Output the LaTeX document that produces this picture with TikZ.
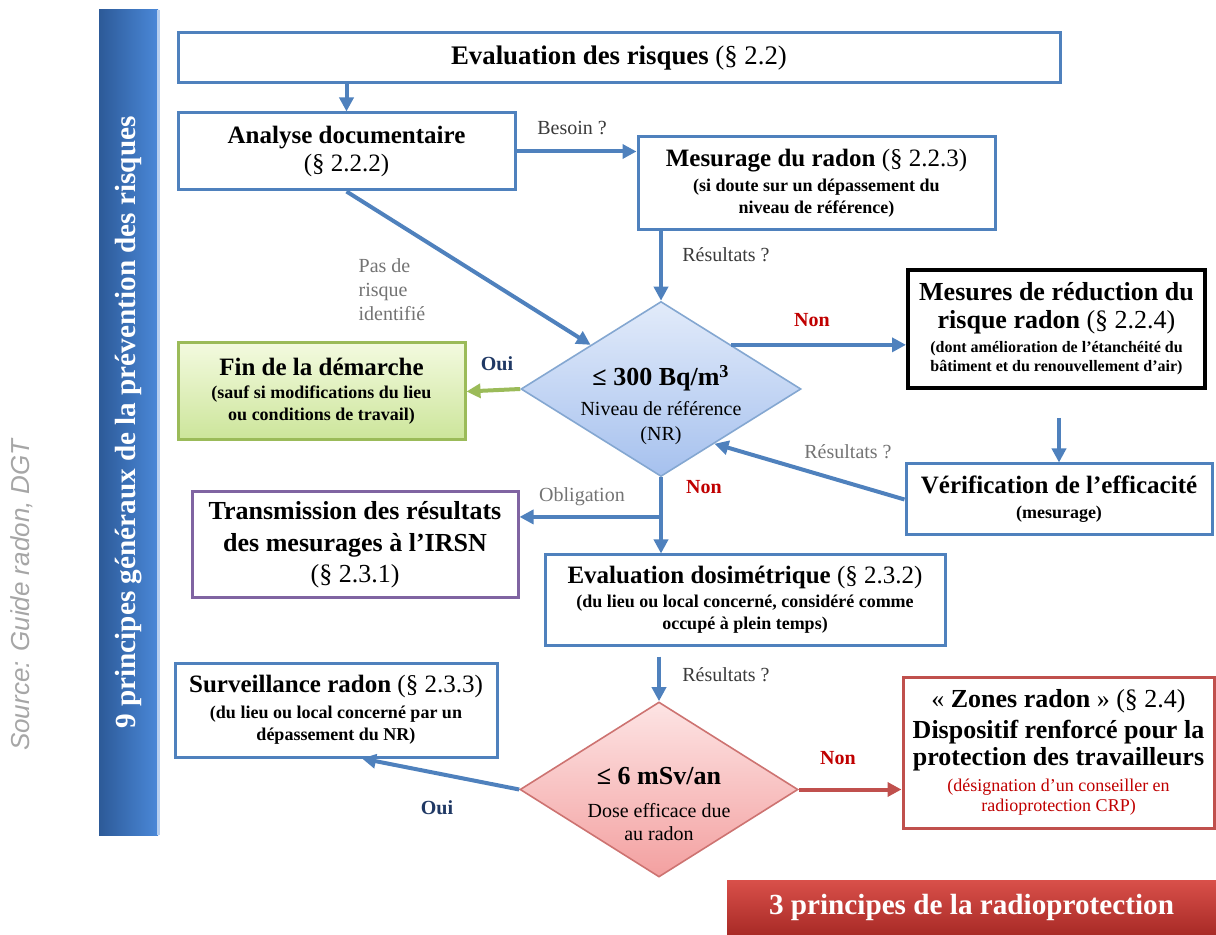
\documentclass[tikz,border=0pt]{standalone}
\usepackage{fontspec}
\setmainfont{Liberation Serif}
\newfontfamily\srcfont{Liberation Sans}
\usetikzlibrary{arrows.meta,shapes.geometric,calc}
\definecolor{blueline}{HTML}{4F81BD}
\definecolor{greenline}{HTML}{9BBB59}
\definecolor{purpleline}{HTML}{8064A2}
\definecolor{redline}{HTML}{C0504D}
\definecolor{nonred}{HTML}{C00000}
\definecolor{ouiblue}{HTML}{1F3864}
\definecolor{lblgray}{HTML}{3A3A3A}
\definecolor{barleft}{HTML}{2D5A98}
\definecolor{barright}{HTML}{4A88D8}
\definecolor{bartop}{HTML}{D9504A}
\definecolor{barbot}{HTML}{A82A26}
\definecolor{d1top}{HTML}{E2EBFA}
\definecolor{d1bot}{HTML}{A6C1EE}
\definecolor{d2top}{HTML}{FDE4E4}
\definecolor{d2bot}{HTML}{F3A0A0}
\definecolor{fintop}{HTML}{F3FADF}
\definecolor{finbot}{HTML}{CCE59A}
\def\pxu{0.5pt}
\newcommand{\hdf}{\fontsize{12.5}{14}\selectfont\bfseries}
\newcommand{\smf}{\fontsize{9}{11}\selectfont\bfseries}
\begin{document}
\begin{tikzpicture}[x=0.5pt,y=-0.5pt,
  box/.style={draw=blueline,line width=1.5pt,fill=white,align=center,inner sep=0pt},
  arr/.style={draw=blueline,line width=2pt,-{Triangle[length=7pt,width=7pt]}},
  dia/.style={diamond,inner sep=0pt,line width=0.8pt},
  lbl/.style={font=\fontsize{10}{12}\selectfont,text=lblgray,inner sep=0pt},
  nonlbl/.style={font=\fontsize{10}{12}\selectfont\bfseries,text=nonred,inner sep=0pt},
  ouilbl/.style={font=\fontsize{10}{12}\selectfont\bfseries,text=ouiblue,inner sep=0pt}]
\useasboundingbox (0,0) rectangle (1216,935);

% side bars
\node[rotate=90,text=gray!70,font=\srcfont\itshape\fontsize{13}{15}\selectfont] (src) at (22,595) {Source: Guide radon, DGT};
\node[minimum width=59*\pxu,minimum height=825*\pxu,inner sep=0pt,left color=barleft,right color=barright] (lbar) at (128.5,422.5) {};
\draw[white!60!barright,line width=1.2pt] (lbar.north east) -- (lbar.south east);
\node[rotate=90,text=white,font=\fontsize{14.6}{16}\selectfont\bfseries] (lbart) at (lbar.center) {9 principes généraux de la prévention des risques};
\node[minimum width=489*\pxu,minimum height=55*\pxu,inner sep=0pt,top color=bartop,bottom color=barbot,text=white,font=\fontsize{14.6}{16}\selectfont\bfseries] (rbar) at (971.5,907.5) {3 principes de la radioprotection};

% boxes
\node[box,minimum width=882*\pxu,minimum height=50*\pxu] (top) at (619,58)
  {\fontsize{13.4}{15}\selectfont\bfseries Evaluation des risques \mdseries(§ 2.2)};
\node[box,font=\hdf,minimum width=337*\pxu,minimum height=77*\pxu] (analyse) at (346.5,151.5)
  {Analyse documentaire\\ \mdseries(§ 2.2.2)};
\node[box,font=\smf,minimum width=357*\pxu,minimum height=93*\pxu] (mesurage) at (816.5,183.5)
  {{\hdf Mesurage du radon \mdseries(§ 2.2.3)}\\[1.5pt] (si doute sur un dépassement du\\ niveau de référence)};
\node[box,font=\fontsize{8}{9.5}\selectfont\bfseries,draw=black,line width=2pt,minimum width=297*\pxu,minimum height=118*\pxu] (mesures) at (1056.5,329)
  {{\fontsize{13}{14}\selectfont Mesures de réduction du}\\[4.5pt] {\fontsize{13}{14}\selectfont risque radon \mdseries(§ 2.2.4)}\\[2.5pt] (dont amélioration de l’étanchéité du\\ bâtiment et du renouvellement d’air)};
\node[box,font=\smf,minimum width=306*\pxu,minimum height=71*\pxu] (verif) at (1059,499.5)
  {{\hdf Vérification de l’efficacité}\\[1.5pt] (mesurage)};
\node[box,font=\smf,draw=greenline,top color=fintop,bottom color=finbot,minimum width=287*\pxu,minimum height=97*\pxu] (fin) at (321.5,391.5)
  {{\hdf Fin de la démarche}\\[0.5pt] (sauf si modifications du lieu\\ ou conditions de travail)};
\node[box,font=\fontsize{13}{15.5}\selectfont\bfseries,draw=purpleline,minimum width=326*\pxu,minimum height=105*\pxu] (trans) at (355,544.5)
  {Transmission des résultats\\[0.5pt] des mesurages à l’IRSN\\ \mdseries(§ 2.3.1)};
\node[box,font=\smf,minimum width=400*\pxu,minimum height=90*\pxu] (dosi) at (745,600)
  {{\hdf Evaluation dosimétrique \mdseries(§ 2.3.2)}\\[1pt] (du lieu ou local concerné, considéré comme\\ occupé à plein temps)};
\node[box,font=\smf,minimum width=322*\pxu,minimum height=94*\pxu] (surv) at (336,710)
  {{\hdf Surveillance radon \mdseries(§ 2.3.3)}\\[2pt] (du lieu ou local concerné par un\\ dépassement du NR)};
\node[box,font=\fontsize{9}{10}\selectfont\color{nonred},draw=redline,minimum width=311*\pxu,minimum height=151*\pxu] (zones) at (1058.5,752.5)
  {{\color{black}\fontsize{13}{15}\selectfont « \bfseries Zones radon \mdseries» (§ 2.4)}\\[2.5pt]
   {\color{black}\fontsize{13}{15}\selectfont\bfseries Dispositif renforcé pour la}\\[0.5pt]
   {\color{black}\fontsize{13}{15}\selectfont\bfseries protection des travailleurs}\\[3pt]
   (désignation d’un conseiller en\\ radioprotection CRP)};

% diamonds
\node[dia,draw=blueline!70!white,top color=d1top,bottom color=d1bot,minimum width=280*\pxu,minimum height=175*\pxu] (d1) at (661,389) {};
\node[align=center,inner sep=0pt,font=\fontsize{10}{12.5}\selectfont] (d1t) at (661,405)
  {{\fontsize{13}{15}\selectfont\bfseries ≤ 300 Bq/m\textsuperscript{3}}\\[2.5pt] Niveau de référence\\ (NR)};
\node[dia,draw=redline!80!white,top color=d2top,bottom color=d2bot,minimum width=278*\pxu,minimum height=175*\pxu] (d2) at (659,789.5) {};
\node[align=center,inner sep=0pt,font=\fontsize{10}{11.5}\selectfont] (d2t) at (659,804)
  {{\fontsize{13}{15}\selectfont\bfseries ≤ 6 mSv/an}\\[5pt] Dose efficace due\\ au radon};

% connectors
\draw[arr] (analyse.north |- top.south) -- (analyse.north);
\draw[arr] (analyse.east) -- (analyse.east -| mesurage.west);
\node[lbl] (lbesoin) at (572,128) {Besoin ?};
\draw[arr] (d1.north |- mesurage.south) -- (d1.north);
\node[lbl] (lres1) at (726,255) {Résultats ?};
\draw[arr] (analyse.south) -- (d1.north west);
\node[lbl,align=left,text=gray!90!black] (lpas) at (392,290) {Pas de\\ risque\\ identifié};
\draw[arr] (d1.north east) -- (d1.north east -| mesures.west);
\node[nonlbl] (lnon1) at (812,320) {Non};
\draw[arr,shorten <=14pt] (verif.north |- mesures.south) -- (verif.north);
\coordinate (d1r) at ($(d1.east)!0.62!(d1.south)$);
\draw[arr] (verif.west) -- (d1r);
\node[lbl,text=gray!90!black] (lres2) at (848,452) {Résultats ?};
\draw[draw=greenline,line width=2pt,-{Triangle[length=7pt,width=7pt]}] (d1.west) -- (fin.east);
\node[ouilbl] (loui1) at (497,364) {Oui};
\coordinate (br) at ($(d1.south)!0.52!(d1.south |- dosi.north)$);
\draw[arr] (d1.south) -- (d1.south |- dosi.north);
\draw[arr] (br) -- (br -| trans.east);
\node[lbl,text=gray!90!black] (lobl) at (582,497) {Obligation};
\node[nonlbl] (lnon2) at (704,487) {Non};
\draw[arr,shorten <=5pt] (d2.north |- dosi.south) -- (d2.north);
\node[lbl] (lres3) at (726,675) {Résultats ?};
\coordinate (survin) at ($(surv.south west)!0.58!(surv.south east)$);
\draw[arr] (d2.west) -- (survin);
\node[ouilbl] (loui2) at (437,808) {Oui};
\draw[draw=redline,line width=2pt,-{Triangle[length=7pt,width=7pt]}] (d2.east) -- (d2.east -| zones.west);
\node[nonlbl] (lnon3) at (838,758) {Non};
\end{tikzpicture}
\end{document}
